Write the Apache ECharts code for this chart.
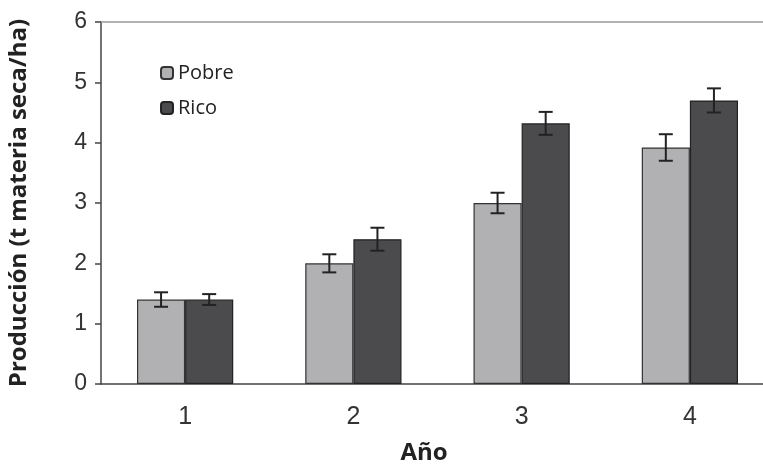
<!DOCTYPE html>
<html>
<head>
<meta charset="utf-8">
<script src="https://cdn.jsdelivr.net/npm/echarts@6/dist/echarts.min.js"></script>
<style>
  html, body { margin: 0; padding: 0; background: #fff; }
  #main { width: 763px; height: 467px; }
</style>
</head>
<body>
<div id="main"></div>
<script>
// datos
var years = ['1', '2', '3', '4'];
var pobre = [1.4, 2.0, 3.0, 3.92];
var rico = [1.4, 2.4, 4.32, 4.7];
var pobreErr = [0.12, 0.15, 0.17, 0.22];
var ricoErr = [0.09, 0.19, 0.19, 0.2];

var myChart = echarts.init(document.getElementById('main'));

function errorSeries(name, vals, errs, shift) {
    var data = vals.map(function (v, i) { return [i, v - errs[i], v + errs[i]]; });
    return {
        type: 'custom',
        name: name + ' err',
        z: 10,
        silent: true,
        data: data,
        renderItem: function (params, api) {
            var band = api.size([1, 0])[0];
            var lo = api.coord([api.value(0), api.value(1)]);
            var hi = api.coord([api.value(0), api.value(2)]);
            var x = lo[0] + band * shift;
            var hw = 7;
            var style = { stroke: '#222', lineWidth: 2 };
            return {
                type: 'group',
                children: [
                    { type: 'line', shape: { x1: x, y1: lo[1], x2: x, y2: hi[1] }, style: style },
                    { type: 'line', shape: { x1: x - hw, y1: lo[1], x2: x + hw, y2: lo[1] }, style: style },
                    { type: 'line', shape: { x1: x - hw, y1: hi[1], x2: x + hw, y2: hi[1] }, style: style }
                ]
            };
        }
    };
}

myChart.setOption({
    animation: false,
    title: {
        text: 'Año',
        left: 424,
        top: 441,
        padding: 0,
        textAlign: 'center',
        textStyle: { fontFamily: 'Open Sans', fontWeight: 'bold', fontSize: 24, color: '#222' }
    },
    grid: { left: 101, top: 22, width: 673, height: 362, outerBoundsMode: 'none', containLabel: false },
    legend: {
        data: ['Pobre', 'Rico'],
        orient: 'vertical',
        left: 155,
        top: 58,
        itemWidth: 12,
        itemHeight: 12,
        itemGap: 15,
        textStyle: { fontFamily: 'Open Sans', fontSize: 20, color: '#222' }
    },
    xAxis: [{
        type: 'category',
        data: years,
        axisLine: { lineStyle: { color: '#444', width: 1.5 } },
        axisTick: { length: 6, lineStyle: { color: '#444', width: 1.5 } },
        axisLabel: { margin: 21, fontFamily: 'Liberation Sans', fontSize: 25, color: '#333' }
    }, {
        type: 'category',
        data: years,
        position: 'top',
        axisLine: { lineStyle: { color: '#999', width: 1.5 } },
        axisTick: { show: false },
        axisLabel: { show: false }
    }],
    yAxis: {
        type: 'value',
        min: 0,
        max: 6,
        interval: 1,
        name: 'Producción (t materia seca/ha)',
        nameLocation: 'middle',
        nameGap: 70,
        nameTextStyle: { fontFamily: 'Open Sans', fontWeight: 'bold', fontSize: 24, color: '#222' },
        axisLine: { show: true, lineStyle: { color: '#444', width: 1.5 } },
        axisTick: { show: true, length: 6, lineStyle: { color: '#444', width: 1.5 } },
        splitLine: { show: false },
        axisLabel: { margin: 14, fontFamily: 'Liberation Sans', fontSize: 23, color: '#333' }
    },
    series: [{
        name: 'Pobre',
        type: 'bar',
        data: pobre,
        barWidth: '28.6%',
        barGap: '0%',
        itemStyle: { color: '#b1b1b4', borderColor: '#333', borderWidth: 1.2 }
    }, {
        name: 'Rico',
        type: 'bar',
        data: rico,
        barWidth: '28.6%',
        barGap: '0%',
        itemStyle: { color: '#4b4b4e', borderColor: '#222', borderWidth: 1.2 }
    },
    errorSeries('Pobre', pobre, pobreErr, -0.143),
    errorSeries('Rico', rico, ricoErr, 0.143)
    ]
});
</script>
</body>
</html>
